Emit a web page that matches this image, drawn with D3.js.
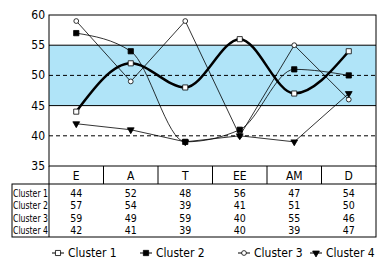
<!DOCTYPE html>
<html>
<head>
<meta charset="utf-8">
<script src="https://cdn.jsdelivr.net/npm/d3@7"></script>
<style>
  body { margin: 0; background: #fff; }
  svg { display: block; }
  text { font-family: "Liberation Sans Narrow", "DejaVu Sans Condensed", sans-serif; font-size: 12px; fill: #000; }
  .cell { font-size: 10.5px; }
</style>
</head>
<body>
<svg></svg>
<script>
var categories = ['E', 'A', 'T', 'EE', 'AM', 'D'];
var seriesNames = ['Cluster 1', 'Cluster 2', 'Cluster 3', 'Cluster 4'];
var cluster1 = [44, 52, 48, 56, 47, 54];
var cluster2 = [57, 54, 39, 41, 51, 50];
var cluster3 = [59, 49, 59, 40, 55, 46];
var cluster4 = [42, 41, 39, 40, 39, 47];
var yTicks = [35, 40, 45, 50, 55, 60];
var bandRange = [45, 55];
var dashedAt = [50, 40];

var width = 381;
var height = 266;
var plotLeft = 49, plotRight = 376, plotTop = 15, plotBottom = 166;
var tableLeft = 12, catBottom = 184, tableBottom = 237;

var svg = d3.select('svg')
  .attr('width', width)
  .attr('height', height);

var x = d3.scaleBand()
  .domain(categories)
  .range([plotLeft, plotRight]);

var y = d3.scaleLinear()
  .domain([35, 60])
  .range([plotBottom, plotTop]);

var cx = d => x(d) + x.bandwidth() / 2;

// blue band
svg.append('rect')
  .attr('x', plotLeft)
  .attr('y', y(bandRange[1]))
  .attr('width', plotRight - plotLeft)
  .attr('height', y(bandRange[0]) - y(bandRange[1]))
  .attr('fill', '#b0e4f8');

svg.selectAll('.bandline')
  .data(bandRange)
  .enter()
  .append('line')
  .attr('x1', plotLeft)
  .attr('x2', plotRight)
  .attr('y1', d => y(d))
  .attr('y2', d => y(d))
  .attr('stroke', '#000')
  .attr('stroke-width', 1);

svg.selectAll('.dash')
  .data(dashedAt)
  .enter()
  .append('line')
  .attr('x1', plotLeft)
  .attr('x2', plotRight)
  .attr('y1', d => y(d))
  .attr('y2', d => y(d))
  .attr('stroke', '#000')
  .attr('stroke-dasharray', '4,3');

// y axis labels
svg.selectAll('.ytick')
  .data(yTicks)
  .enter()
  .append('text')
  .attr('x', plotLeft - 4)
  .attr('y', d => y(d) + 4)
  .attr('text-anchor', 'end')
  .text(d => d);

var series = [
  { name: seriesNames[0], values: cluster1, curve: d3.curveMonotoneX, width: 2.5, symbol: d3.symbolSquare, size: 26, fill: '#fff', rotate: 0 },
  { name: seriesNames[1], values: cluster2, curve: d3.curveMonotoneX, width: 0.8, symbol: d3.symbolSquare, size: 28, fill: '#000', rotate: 0 },
  { name: seriesNames[2], values: cluster3, curve: d3.curveLinear, width: 0.8, symbol: d3.symbolCircle, size: 18, fill: '#fff', rotate: 0 },
  { name: seriesNames[3], values: cluster4, curve: d3.curveLinear, width: 0.8, symbol: d3.symbolTriangle, size: 20, fill: '#000', rotate: 180 }
];

series.forEach(function(s) {
  var line = d3.line()
    .x((d, i) => cx(categories[i]))
    .y(d => y(d))
    .curve(s.curve);
  svg.append('path')
    .attr('d', line(s.values))
    .attr('fill', 'none')
    .attr('stroke', '#000')
    .attr('stroke-width', s.width);
});

series.forEach(function(s) {
  svg.selectAll(null)
    .data(s.values)
    .enter()
    .append('path')
    .attr('d', d3.symbol().type(s.symbol).size(s.size))
    .attr('transform', (d, i) => 'translate(' + cx(categories[i]) + ',' + y(d) + ') rotate(' + s.rotate + ')')
    .attr('fill', s.fill)
    .attr('stroke', '#000')
    .attr('stroke-width', 0.8);
});

// plot frame
svg.append('rect')
  .attr('x', plotLeft)
  .attr('y', plotTop)
  .attr('width', plotRight - plotLeft)
  .attr('height', plotBottom - plotTop)
  .attr('fill', 'none')
  .attr('stroke', '#000');

// category row
svg.selectAll('.catsep')
  .data(categories.slice(1))
  .enter()
  .append('line')
  .attr('x1', d => x(d))
  .attr('x2', d => x(d))
  .attr('y1', plotBottom)
  .attr('y2', catBottom)
  .attr('stroke', '#000');

svg.selectAll('.cat')
  .data(categories)
  .enter()
  .append('text')
  .attr('x', d => cx(d))
  .attr('y', 180)
  .attr('text-anchor', 'middle')
  .text(d => d);

// table frame
svg.append('line')
  .attr('x1', plotLeft).attr('x2', plotLeft)
  .attr('y1', plotBottom).attr('y2', tableBottom)
  .attr('stroke', '#000');
svg.append('rect')
  .attr('x', tableLeft)
  .attr('y', catBottom)
  .attr('width', plotRight - tableLeft)
  .attr('height', tableBottom - catBottom)
  .attr('fill', 'none')
  .attr('stroke', '#000');
svg.append('line')
  .attr('x1', plotRight).attr('x2', plotRight)
  .attr('y1', plotBottom).attr('y2', catBottom)
  .attr('stroke', '#000');

var rowY = d3.scaleLinear().domain([0, 3]).range([197, 234]);

series.forEach(function(s, r) {
  svg.append('text')
    .attr('class', 'cell')
    .attr('x', tableLeft + 1)
    .attr('y', rowY(r))
    .attr('textLength', 35)
    .attr('lengthAdjust', 'spacingAndGlyphs')
    .text(s.name);
  svg.selectAll(null)
    .data(s.values)
    .enter()
    .append('text')
    .attr('class', 'cell')
    .attr('x', (d, i) => cx(categories[i]))
    .attr('y', rowY(r))
    .attr('text-anchor', 'middle')
    .text(d => d);
});

// legend
var legendX = [58, 146, 244, 316];
var legend = svg.selectAll('.legend')
  .data(series)
  .enter()
  .append('g')
  .attr('transform', (d, i) => 'translate(' + legendX[i] + ',253)');

legend.append('line')
  .attr('x1', -6)
  .attr('x2', 6)
  .attr('stroke', '#000')
  .attr('stroke-width', 1);

legend.append('path')
  .attr('d', d => d3.symbol().type(d.symbol).size(d.size)())
  .attr('transform', d => 'rotate(' + d.rotate + ')')
  .attr('fill', d => d.fill)
  .attr('stroke', '#000')
  .attr('stroke-width', 0.8);

legend.append('text')
  .attr('x', 10)
  .attr('y', 4)
  .text(d => d.name);
</script>
</body>
</html>
